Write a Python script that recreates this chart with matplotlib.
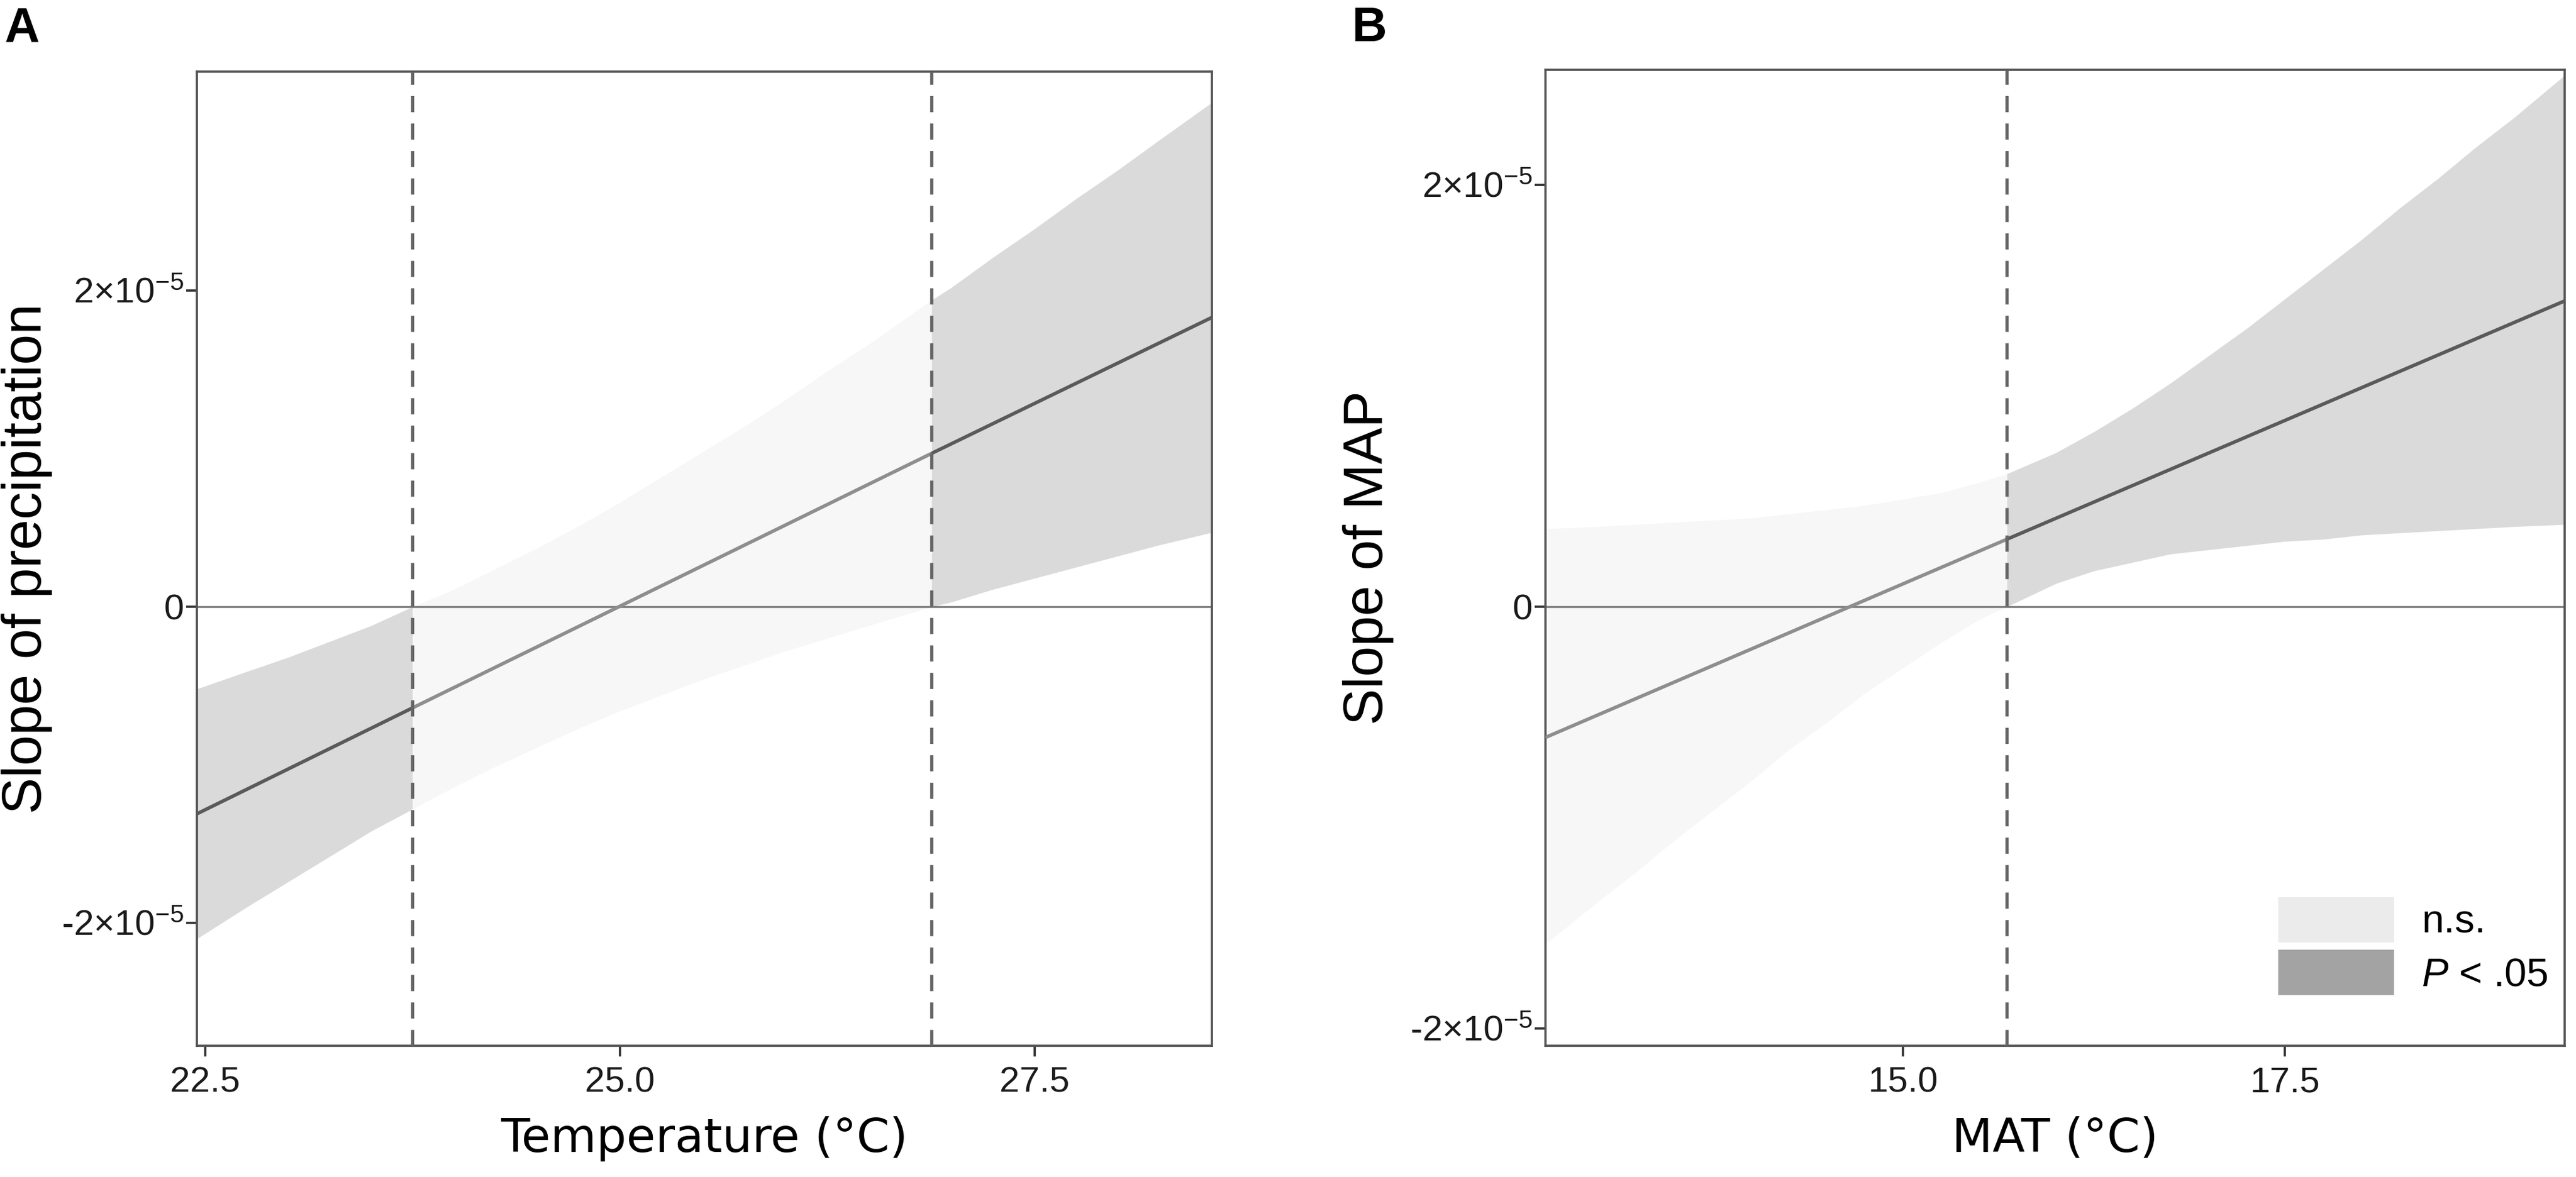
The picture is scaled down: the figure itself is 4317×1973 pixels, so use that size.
import numpy as np
import matplotlib.pyplot as plt
from matplotlib.patches import Patch

plt.rcParams['font.family'] = ['Liberation Sans', 'DejaVu Sans']
plt.rcParams['mathtext.fontset'] = 'custom'
plt.rcParams['mathtext.rm'] = 'Liberation Sans'
plt.rcParams['mathtext.it'] = 'Liberation Sans:italic'

# Panel A: slope of precipitation vs temperature (values in units of 1e-5)
temp = [22.45, 22.75, 23.0, 23.25, 23.5, 23.75, 24.0, 24.25, 24.5, 24.75, 25.0,
        25.25, 25.5, 25.75, 26.0, 26.25, 26.5, 26.88, 27.0, 27.25, 27.5, 27.75,
        28.0, 28.25, 28.57]
temp_hi = [-0.52, -0.41, -0.32, -0.22, -0.12, 0.0, 0.11, 0.24, 0.37, 0.51, 0.66,
           0.82, 0.98, 1.14, 1.31, 1.49, 1.66, 1.94, 2.02, 2.21, 2.39, 2.58,
           2.76, 2.95, 3.19]
temp_lo = [-2.10, -1.90, -1.74, -1.58, -1.42, -1.28, -1.14, -1.01, -0.89, -0.77, -0.66,
           -0.56, -0.46, -0.37, -0.28, -0.20, -0.12, 0.0, 0.03, 0.11, 0.18, 0.25,
           0.32, 0.39, 0.47]
# fitted slope line, read at the ends and at the region boundaries
temp_line_x = [22.45, 23.75, 26.88, 28.57]
temp_line_y = [-1.31, -0.64, 0.97, 1.83]
temp_jn = [23.75, 26.88]
temp_sig = [True, False, True]

# Panel B: slope of MAP vs MAT (values in units of 1e-5)
mat = [12.66, 13.0, 13.25, 13.5, 13.75, 14.0, 14.25, 14.5, 14.75, 15.0, 15.25, 15.5,
       15.68, 16.0, 16.25, 16.5, 16.75, 17.0, 17.25, 17.5, 17.75, 18.0, 18.25, 18.5,
       18.75, 19.0, 19.33]
mat_hi = [0.37, 0.38, 0.39, 0.40, 0.41, 0.42, 0.44, 0.46, 0.48, 0.51, 0.54, 0.59,
          0.63, 0.73, 0.83, 0.94, 1.06, 1.19, 1.32, 1.46, 1.60, 1.74, 1.89, 2.03,
          2.18, 2.32, 2.52]
mat_lo = [-1.60, -1.40, -1.26, -1.11, -0.97, -0.83, -0.68, -0.55, -0.41, -0.29, -0.17, -0.06,
          0.0, 0.11, 0.17, 0.21, 0.25, 0.27, 0.29, 0.31, 0.32, 0.34, 0.35, 0.36,
          0.37, 0.38, 0.39]
mat_line_x = [12.66, 15.68, 19.33]
mat_line_y = [-0.62, 0.32, 1.45]
mat_jn = [15.68]
mat_sig = [False, True]

ytick_vals = [-2e-5, 0, 2e-5]
ytick_labels = [r'-2×10$^{\mathregular{-5}}$', '0', r'2×10$^{\mathregular{-5}}$']

DARK_BAND = '#dadada'
LIGHT_BAND = '#f7f7f7'
DARK_LINE = '#5a5a5a'
LIGHT_LINE = '#8e8e8e'


def draw_panel(ax, x, lo, hi, lx, ly, jn, sig, xlim, ylim, xticks, xlabel, ylabel):
    x = np.array(x)
    lo = np.array(lo) * 1e-5
    hi = np.array(hi) * 1e-5
    lx = np.array(lx)
    ly = np.array(ly) * 1e-5
    edges = [x.min()] + list(jn) + [x.max()]
    for i, s in enumerate(sig):
        m = (x >= edges[i]) & (x <= edges[i + 1])
        ax.fill_between(x[m], lo[m], hi[m], color=DARK_BAND if s else LIGHT_BAND,
                        lw=0, zorder=1)
    ax.axhline(0, color='#808080', lw=0.8, zorder=2)
    for i, s in enumerate(sig):
        m = (lx >= edges[i]) & (lx <= edges[i + 1])
        ax.plot(lx[m], ly[m], color=DARK_LINE if s else LIGHT_LINE, lw=1.4,
                solid_capstyle='butt', zorder=3)
    for v in jn:
        ax.axvline(v, color='#666666', lw=1.3, ls=(0, (5, 3.5)), zorder=4)

    ax.set_xlim(xlim)
    ax.set_ylim(ylim)
    ax.set_xticks(xticks)
    ax.set_xticklabels([f'{t:.1f}' for t in xticks])
    ax.set_yticks(ytick_vals)
    ax.set_yticklabels(ytick_labels)
    for sp in ax.spines.values():
        sp.set_color('#555555')
        sp.set_linewidth(0.9)
    ax.tick_params(length=4.3, width=0.9, color='#333333', labelsize=14.5,
                   labelcolor='#1a1a1a')
    ax.tick_params(axis='x', pad=4)
    ax.tick_params(axis='y', pad=1)
    ax.set_xlabel(xlabel, fontsize=19, family='DejaVu Sans')
    ax.set_ylabel(ylabel, fontsize=22)


W, H = 4317, 1973
fig = plt.figure(figsize=(W / 300, H / 300), dpi=300)

axA = fig.add_axes([330 / W, 1 - 1753 / H, (2031 - 330) / W, (1753 - 120) / H])
draw_panel(axA, temp, temp_lo, temp_hi, temp_line_x, temp_line_y, temp_jn, temp_sig,
           (22.45, 28.57), (-2.777e-5, 3.385e-5), [22.5, 25.0, 27.5],
           'Temperature (°C)', 'Slope of precipitation')
axA.xaxis.set_label_coords(0.5, -0.072)
axA.yaxis.set_label_coords(-0.142, 0.5)

axB = fig.add_axes([2590 / W, 1 - 1753 / H, (4298 - 2590) / W, (1753 - 117) / H])
draw_panel(axB, mat, mat_lo, mat_hi, mat_line_x, mat_line_y, mat_jn, mat_sig,
           (12.66, 19.33), (-2.082e-5, 2.546e-5), [15.0, 17.5],
           'MAT (°C)', 'Slope of MAP')
axB.xaxis.set_label_coords(0.5, -0.072)
axB.yaxis.set_label_coords(-0.149, 0.5)

handles = [Patch(facecolor='#ebebeb', edgecolor='none'),
           Patch(facecolor='#a3a3a3', edgecolor='none')]
axB.legend(handles, ['n.s.', r'$\it{P}$ < .05'], loc='lower right',
           bbox_to_anchor=(0.984, 0.052), frameon=False, fontsize=16,
           handlelength=2.9, handleheight=1.38, handletextpad=0.7,
           labelspacing=0.18, borderpad=0, borderaxespad=0)

fig.text(8 / W, 1 - 10 / H, 'A', fontsize=19.5, fontweight='bold', va='top')
fig.text(2266 / W, 1 - 10 / H, 'B', fontsize=19.5, fontweight='bold', va='top')

fig.savefig('out.png', dpi=300, facecolor='white')
